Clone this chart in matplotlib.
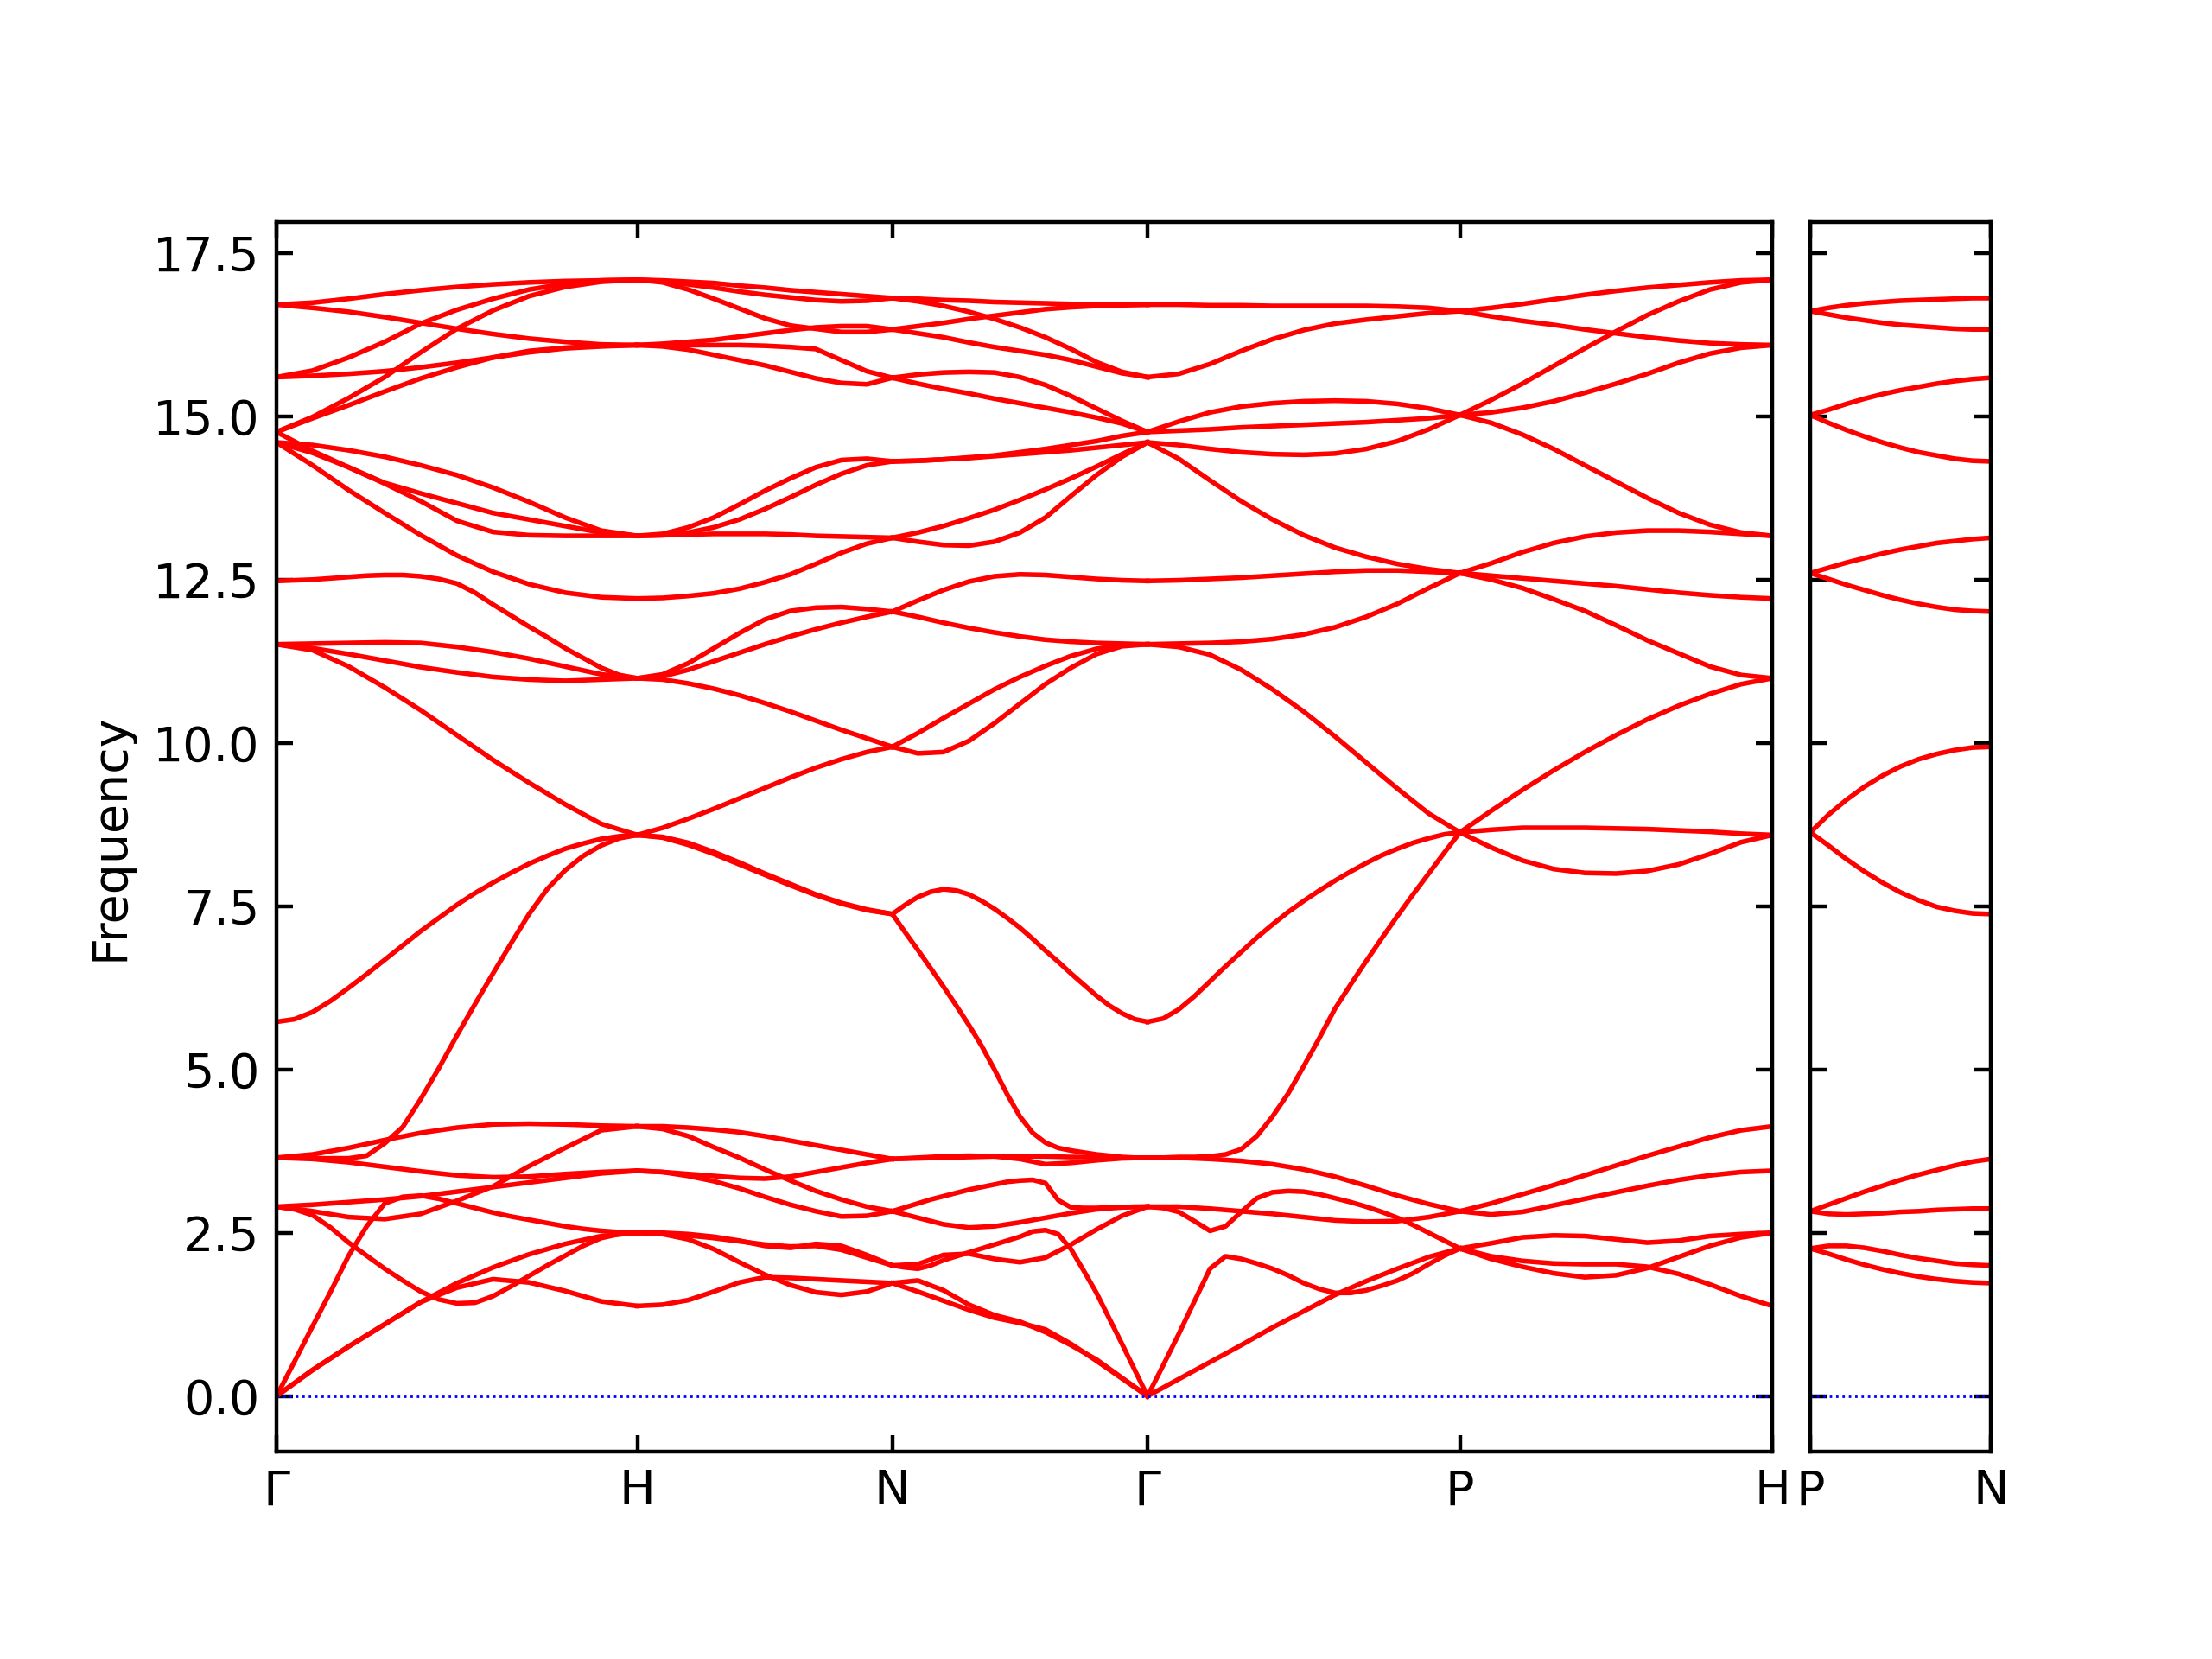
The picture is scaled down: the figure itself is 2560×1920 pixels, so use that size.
import numpy as np
import matplotlib
matplotlib.use('Agg')
import matplotlib.pyplot as plt
from matplotlib.gridspec import GridSpec

# path through the BZ (bcc): segment lengths in 2pi/a units
labels_main = ['Γ', 'H', 'N', 'Γ', 'P', 'H']
seg_len = [1.0, 0.7071, 0.7071, 0.8660, 0.8660]
labels_side = ['P', 'N']
side_len = 0.5

# band values read along each segment (evenly spaced samples, start -> end point)
band_GH = [
    [0.00, 0.40, 0.76, 1.10, 1.44, 1.66, 1.79, 1.74, 1.61, 1.45, 1.38],
    [0.00, 0.40, 0.76, 1.10, 1.44, 1.73, 1.97, 2.17, 2.33, 2.45, 2.50],
    [0.00, 0.53, 1.07, 1.60, 2.15, 2.60, 2.95, 3.05, 3.07, 3.02, 2.95,
     2.88, 2.81, 2.75, 2.70, 2.65, 2.60, 2.56, 2.53, 2.51, 2.50],
    [2.90, 2.86, 2.77, 2.58, 2.35, 2.15, 1.95, 1.77, 1.60, 1.48, 1.42,
     1.43, 1.53, 1.68, 1.84, 2.00, 2.15, 2.30, 2.42, 2.48, 2.50],
    [2.90, 2.83, 2.74, 2.71, 2.79, 2.99, 3.21, 3.52, 3.80, 4.07, 4.13],
    [2.90, 2.93, 2.97, 3.01, 3.06, 3.13, 3.20, 3.27, 3.34, 3.41, 3.45],
    [3.65, 3.70, 3.80, 3.92, 4.03, 4.11, 4.16, 4.17, 4.16, 4.14, 4.13],
    [3.65, 3.63, 3.58, 3.51, 3.44, 3.38, 3.35, 3.36, 3.40, 3.43, 3.45],
    [3.65, 3.65, 3.64, 3.64, 3.64, 3.68, 3.87, 4.12, 4.55, 5.02, 5.52,
     6.00, 6.47, 6.93, 7.38, 7.76, 8.05, 8.27, 8.43, 8.54, 8.59],
    [16.71, 16.74, 16.80, 16.87, 16.93, 16.98, 17.02, 17.05, 17.07, 17.08, 17.09],
    [16.71, 16.66, 16.60, 16.52, 16.43, 16.34, 16.26, 16.19, 16.14, 16.10, 16.09],
    [15.60, 15.70, 15.90, 16.14, 16.42, 16.63, 16.80, 16.94, 17.03, 17.08, 17.09],
    [15.60, 15.62, 15.65, 15.69, 15.75, 15.82, 15.90, 15.98, 16.04, 16.07, 16.09],
    [14.76, 14.99, 15.28, 15.60, 15.98, 16.34, 16.62, 16.84, 16.98, 17.06, 17.09],
    [14.76, 14.97, 15.17, 15.38, 15.58, 15.75, 15.90, 16.00, 16.05, 16.08, 16.09],
    [14.60, 14.56, 14.48, 14.38, 14.25, 14.10, 13.91, 13.69, 13.45, 13.25, 13.17],
    [14.76, 14.47, 14.22, 13.97, 13.70, 13.40, 13.23, 13.18, 13.17, 13.17, 13.17],
    [14.60, 14.44, 14.22, 13.98, 13.82, 13.67, 13.52, 13.42, 13.32, 13.22, 13.17],
    [14.60, 14.25, 13.87, 13.52, 13.18, 12.87, 12.62, 12.43, 12.30, 12.23, 12.21],
    [12.48, 12.49, 12.50, 12.52, 12.54, 12.56, 12.57, 12.57, 12.55, 12.51, 12.44,
     12.30, 12.12, 11.95, 11.78, 11.62, 11.45, 11.30, 11.15, 11.04, 10.99],
    [11.51, 11.52, 11.53, 11.54, 11.53, 11.47, 11.39, 11.29, 11.17, 11.05, 10.99],
    [11.51, 11.45, 11.36, 11.26, 11.16, 11.08, 11.01, 10.97, 10.95, 10.97, 10.99],
    [11.51, 11.42, 11.17, 10.85, 10.50, 10.12, 9.74, 9.39, 9.06, 8.76, 8.59],
    [5.73, 5.77, 5.88, 6.05, 6.25, 6.46, 6.68, 6.90, 7.12, 7.32, 7.52,
     7.70, 7.86, 8.01, 8.15, 8.27, 8.38, 8.46, 8.53, 8.57, 8.59],
]

band_HN = [
    [4.13, 4.13, 4.11, 4.08, 4.04, 3.98, 3.91, 3.84, 3.77, 3.70, 3.63],
    [4.13, 4.09, 3.98, 3.81, 3.65, 3.47, 3.30, 3.14, 3.01, 2.90, 2.83],
    [3.45, 3.43, 3.40, 3.37, 3.34, 3.33, 3.36, 3.43, 3.50, 3.57, 3.63],
    [3.45, 3.43, 3.37, 3.29, 3.18, 3.05, 2.93, 2.83, 2.75, 2.76, 2.83],
    [2.50, 2.49, 2.46, 2.42, 2.37, 2.32, 2.29, 2.30, 2.24, 2.12, 2.00],
    [2.50, 2.48, 2.40, 2.25, 2.05, 1.86, 1.70, 1.59, 1.55, 1.60, 1.73],
    [2.50, 2.50, 2.48, 2.44, 2.38, 2.30, 2.27, 2.33, 2.30, 2.16, 2.00],
    [1.38, 1.40, 1.47, 1.60, 1.74, 1.82, 1.81, 1.79, 1.77, 1.75, 1.73],
    [17.09, 17.08, 17.06, 17.04, 17.00, 16.97, 16.93, 16.90, 16.87, 16.84, 16.81],
    [17.09, 17.07, 17.02, 16.97, 16.91, 16.86, 16.82, 16.78, 16.76, 16.77, 16.81],
    [17.09, 17.05, 16.94, 16.80, 16.65, 16.50, 16.39, 16.34, 16.29, 16.29, 16.33],
    [16.09, 16.11, 16.14, 16.17, 16.22, 16.27, 16.32, 16.36, 16.38, 16.38, 16.33],
    [16.09, 16.09, 16.09, 16.09, 16.09, 16.08, 16.06, 16.03, 15.86, 15.69, 15.59],
    [16.09, 16.07, 16.02, 15.94, 15.86, 15.78, 15.68, 15.58, 15.51, 15.49, 15.59],
    [13.17, 13.20, 13.30, 13.45, 13.65, 13.86, 14.05, 14.22, 14.33, 14.35, 14.31],
    [13.17, 13.18, 13.22, 13.30, 13.42, 13.58, 13.76, 13.95, 14.12, 14.25, 14.31],
    [13.17, 13.18, 13.19, 13.20, 13.20, 13.20, 13.19, 13.17, 13.16, 13.15, 13.14],
    [12.21, 12.22, 12.25, 12.29, 12.36, 12.46, 12.58, 12.74, 12.91, 13.05, 13.14],
    [10.99, 11.05, 11.22, 11.45, 11.68, 11.89, 12.02, 12.07, 12.08, 12.05, 12.01],
    [10.99, 11.02, 11.12, 11.25, 11.38, 11.51, 11.63, 11.74, 11.84, 11.93, 12.01],
    [10.99, 10.97, 10.91, 10.83, 10.73, 10.61, 10.48, 10.34, 10.20, 10.07, 9.94],
    [8.59, 8.70, 8.84, 8.99, 9.15, 9.31, 9.47, 9.62, 9.75, 9.86, 9.94],
    [8.59, 8.56, 8.47, 8.33, 8.17, 8.00, 7.84, 7.68, 7.55, 7.45, 7.38],
    [8.59, 8.55, 8.44, 8.30, 8.14, 7.98, 7.82, 7.67, 7.54, 7.44, 7.38],
]

band_NG = [
    [3.63, 3.64, 3.65, 3.66, 3.67, 3.67, 3.67, 3.66, 3.66, 3.65, 3.65],
    [3.63, 3.65, 3.67, 3.68, 3.67, 3.63, 3.55, 3.57, 3.61, 3.64, 3.65],
    [2.83, 2.89, 2.95, 3.01, 3.06, 3.11, 3.16, 3.20, 3.24, 3.28, 3.30,
     3.31, 3.26, 3.00, 2.89, 2.88, 2.88, 2.89, 2.89, 2.90, 2.90],
    [2.83, 2.73, 2.63, 2.58, 2.60, 2.66, 2.73, 2.80, 2.86, 2.89, 2.90],
    [2.00, 2.02, 2.16, 2.18, 2.10, 2.05, 2.12, 2.32, 2.55, 2.76, 2.90],
    [2.00, 1.97, 1.95, 2.00, 2.08, 2.14, 2.20, 2.26, 2.32, 2.38, 2.44,
     2.52, 2.54, 2.48, 2.25, 1.92, 1.58, 1.19, 0.80, 0.40, 0.00],
    [1.73, 1.77, 1.62, 1.40, 1.24, 1.14, 0.98, 0.78, 0.56, 0.28, 0.00],
    [1.73, 1.60, 1.46, 1.32, 1.20, 1.12, 1.02, 0.80, 0.54, 0.27, 0.00],
    [16.81, 16.80, 16.78, 16.77, 16.75, 16.74, 16.73, 16.72, 16.72, 16.71, 16.71],
    [16.81, 16.76, 16.69, 16.60, 16.49, 16.36, 16.21, 16.03, 15.83, 15.68, 15.60],
    [16.33, 16.27, 16.21, 16.13, 16.06, 16.00, 15.94, 15.86, 15.76, 15.66, 15.60],
    [16.33, 16.38, 16.43, 16.49, 16.54, 16.59, 16.64, 16.67, 16.69, 16.70, 16.71],
    [15.59, 15.64, 15.67, 15.68, 15.67, 15.60, 15.48, 15.31, 15.12, 14.93, 14.76],
    [15.59, 15.50, 15.42, 15.35, 15.27, 15.20, 15.13, 15.06, 14.98, 14.89, 14.76],
    [14.31, 14.32, 14.34, 14.37, 14.40, 14.45, 14.50, 14.56, 14.62, 14.70, 14.76],
    [14.31, 14.32, 14.34, 14.36, 14.39, 14.42, 14.45, 14.48, 14.52, 14.56, 14.60],
    [13.14, 13.08, 13.03, 13.02, 13.08, 13.22, 13.45, 13.78, 14.10, 14.38, 14.60],
    [13.14, 13.22, 13.32, 13.44, 13.57, 13.72, 13.88, 14.05, 14.23, 14.42, 14.60],
    [12.01, 12.18, 12.34, 12.47, 12.55, 12.58, 12.57, 12.54, 12.51, 12.49, 12.48],
    [12.01, 11.93, 11.84, 11.76, 11.69, 11.63, 11.58, 11.55, 11.53, 11.52, 11.51],
    [9.94, 9.84, 9.86, 10.03, 10.30, 10.60, 10.90, 11.15, 11.36, 11.48, 11.51],
    [9.94, 10.15, 10.38, 10.60, 10.82, 11.01, 11.18, 11.33, 11.44, 11.50, 11.51],
    [7.38, 7.52, 7.64, 7.72, 7.76, 7.74, 7.68, 7.58, 7.46, 7.32, 7.17,
     7.00, 6.82, 6.65, 6.47, 6.30, 6.13, 5.98, 5.86, 5.77, 5.73],
    [7.38, 7.10, 6.83, 6.55, 6.27, 5.98, 5.68, 5.36, 5.00, 4.62, 4.28,
     4.03, 3.88, 3.80, 3.76, 3.73, 3.70, 3.68, 3.66, 3.65, 3.65],
]

band_GP = [
    [3.65, 3.65, 3.66, 3.66, 3.67, 3.70, 3.78, 3.98, 4.28, 4.63, 5.05,
     5.48, 5.93, 6.30, 6.66, 7.01, 7.35, 7.68, 8.00, 8.32, 8.63],
    [3.65, 3.65, 3.63, 3.60, 3.55, 3.47, 3.36, 3.22, 3.07, 2.94, 2.83],
    [2.90, 2.88, 2.82, 2.68, 2.53, 2.60, 2.82, 3.03, 3.12, 3.14, 3.13,
     3.09, 3.03, 2.97, 2.90, 2.82, 2.73, 2.62, 2.50, 2.38, 2.26],
    [2.90, 2.90, 2.87, 2.83, 2.79, 2.74, 2.69, 2.67, 2.68, 2.74, 2.83],
    [0.00, 0.47, 0.95, 1.45, 1.95, 2.14, 2.10, 2.03, 1.95, 1.85, 1.73,
     1.64, 1.58, 1.58, 1.62, 1.69, 1.77, 1.88, 2.02, 2.15, 2.26],
    [0.00, 0.26, 0.52, 0.78, 1.05, 1.30, 1.55, 1.76, 1.95, 2.13, 2.26],
    [16.71, 16.71, 16.70, 16.70, 16.69, 16.69, 16.69, 16.69, 16.68, 16.66, 16.61],
    [15.60, 15.65, 15.80, 16.00, 16.18, 16.32, 16.42, 16.48, 16.53, 16.58, 16.61],
    [14.76, 14.92, 15.06, 15.15, 15.20, 15.23, 15.24, 15.23, 15.19, 15.12, 15.02],
    [14.76, 14.78, 14.80, 14.83, 14.85, 14.87, 14.89, 14.91, 14.94, 14.97, 15.02],
    [14.60, 14.56, 14.50, 14.45, 14.42, 14.41, 14.43, 14.50, 14.62, 14.80, 15.02],
    [14.60, 14.35, 14.02, 13.70, 13.42, 13.18, 12.99, 12.85, 12.74, 12.66, 12.60],
    [12.48, 12.49, 12.51, 12.53, 12.56, 12.59, 12.62, 12.64, 12.64, 12.62, 12.60],
    [11.51, 11.52, 11.53, 11.55, 11.59, 11.66, 11.77, 11.93, 12.13, 12.37, 12.60],
    [11.51, 11.47, 11.35, 11.12, 10.82, 10.48, 10.10, 9.70, 9.30, 8.92, 8.63],
    [5.73, 5.78, 5.92, 6.12, 6.35, 6.58, 6.80, 7.02, 7.22, 7.41, 7.58,
     7.74, 7.89, 8.03, 8.16, 8.28, 8.38, 8.47, 8.54, 8.60, 8.63],
]

band_PH = [
    [2.83, 2.95, 3.09, 3.23, 3.38, 3.53, 3.68, 3.82, 3.96, 4.07, 4.13],
    [2.83, 2.78, 2.82, 2.92, 3.02, 3.12, 3.22, 3.31, 3.38, 3.43, 3.45],
    [2.26, 2.34, 2.43, 2.46, 2.45, 2.40, 2.35, 2.38, 2.45, 2.48, 2.50],
    [2.26, 2.14, 2.07, 2.03, 2.02, 2.02, 1.98, 1.87, 1.71, 1.53, 1.38],
    [2.26, 2.10, 1.98, 1.88, 1.82, 1.85, 1.96, 2.13, 2.30, 2.43, 2.50],
    [16.61, 16.66, 16.72, 16.79, 16.86, 16.92, 16.97, 17.01, 17.05, 17.08, 17.09],
    [16.61, 16.53, 16.46, 16.40, 16.33, 16.27, 16.21, 16.16, 16.12, 16.10, 16.09],
    [15.02, 15.25, 15.50, 15.77, 16.04, 16.30, 16.55, 16.76, 16.94, 17.05, 17.09],
    [15.02, 15.06, 15.13, 15.23, 15.36, 15.50, 15.65, 15.82, 15.96, 16.05, 16.09],
    [15.02, 14.90, 14.72, 14.50, 14.25, 14.00, 13.75, 13.52, 13.34, 13.22, 13.17],
    [12.60, 12.75, 12.92, 13.06, 13.16, 13.22, 13.25, 13.25, 13.23, 13.20, 13.17],
    [12.60, 12.56, 12.52, 12.48, 12.44, 12.40, 12.35, 12.30, 12.26, 12.23, 12.21],
    [12.60, 12.50, 12.37, 12.20, 12.02, 11.80, 11.57, 11.37, 11.17, 11.04, 10.99],
    [8.63, 8.96, 9.28, 9.58, 9.86, 10.12, 10.36, 10.57, 10.75, 10.90, 10.99],
    [8.63, 8.67, 8.70, 8.70, 8.70, 8.69, 8.68, 8.66, 8.64, 8.61, 8.59],
    [8.63, 8.40, 8.20, 8.07, 8.01, 8.00, 8.04, 8.14, 8.30, 8.48, 8.59],
]

band_PN = [
    [16.61, 16.66, 16.70, 16.73, 16.75, 16.77, 16.78, 16.79, 16.80, 16.81, 16.81],
    [16.61, 16.56, 16.51, 16.47, 16.43, 16.40, 16.38, 16.36, 16.34, 16.33, 16.33],
    [15.02, 15.10, 15.19, 15.27, 15.34, 15.40, 15.45, 15.50, 15.54, 15.57, 15.59],
    [15.02, 14.90, 14.79, 14.69, 14.60, 14.52, 14.45, 14.40, 14.35, 14.32, 14.31],
    [12.60, 12.68, 12.76, 12.83, 12.90, 12.96, 13.01, 13.06, 13.09, 13.12, 13.14],
    [12.60, 12.51, 12.42, 12.34, 12.26, 12.19, 12.13, 12.08, 12.04, 12.02, 12.01],
    [8.63, 8.90, 9.13, 9.33, 9.50, 9.64, 9.75, 9.83, 9.89, 9.93, 9.94],
    [8.63, 8.43, 8.22, 8.03, 7.86, 7.71, 7.59, 7.49, 7.43, 7.39, 7.38],
    [2.83, 2.93, 3.03, 3.13, 3.22, 3.31, 3.39, 3.46, 3.53, 3.59, 3.63],
    [2.83, 2.79, 2.78, 2.79, 2.80, 2.82, 2.83, 2.85, 2.86, 2.87, 2.87],
    [2.26, 2.30, 2.30, 2.27, 2.22, 2.16, 2.11, 2.07, 2.03, 2.01, 2.00],
    [2.26, 2.18, 2.09, 2.01, 1.94, 1.88, 1.83, 1.79, 1.76, 1.74, 1.73],
]

main_segments = [band_GH, band_HN, band_NG, band_GP, band_PH]

LW = 1.0
ticks = np.concatenate([[0], np.cumsum(seg_len)])

fig = plt.figure(figsize=(6.4, 4.8), dpi=400)
gs = GridSpec(1, 2, width_ratios=[ticks[-1], side_len], left=0.125, right=0.9,
              bottom=0.125, top=0.866, wspace=0.0454)
ax = fig.add_subplot(gs[0])
ax2 = fig.add_subplot(gs[1], sharey=ax)

# main path
for i, seg in enumerate(main_segments):
    for band in seg:
        x = np.linspace(ticks[i], ticks[i + 1], len(band))
        ax.plot(x, band, color='r', lw=LW)
ax.axhline(0, color='b', ls=':', lw=0.5)
ax.set_xlim(ticks[0], ticks[-1])
ax.set_xticks(ticks)
ax.set_xticklabels(labels_main)
ax.set_ylabel('Frequency')

# P-N branch
for band in band_PN:
    x = np.linspace(0, side_len, len(band))
    ax2.plot(x, band, color='r', lw=LW)
ax2.axhline(0, color='b', ls=':', lw=0.5)
ax2.set_xlim(0, side_len)
ax2.set_xticks([0, side_len])
ax2.set_xticklabels(labels_side)

ax.set_ylim(-0.85, 17.97)
ax.set_yticks(np.arange(0, 17.6, 2.5))
for a in (ax, ax2):
    a.tick_params(direction='in', top=True, right=True)
ax2.tick_params(labelleft=False)

fig.savefig('out.png', dpi=400)
